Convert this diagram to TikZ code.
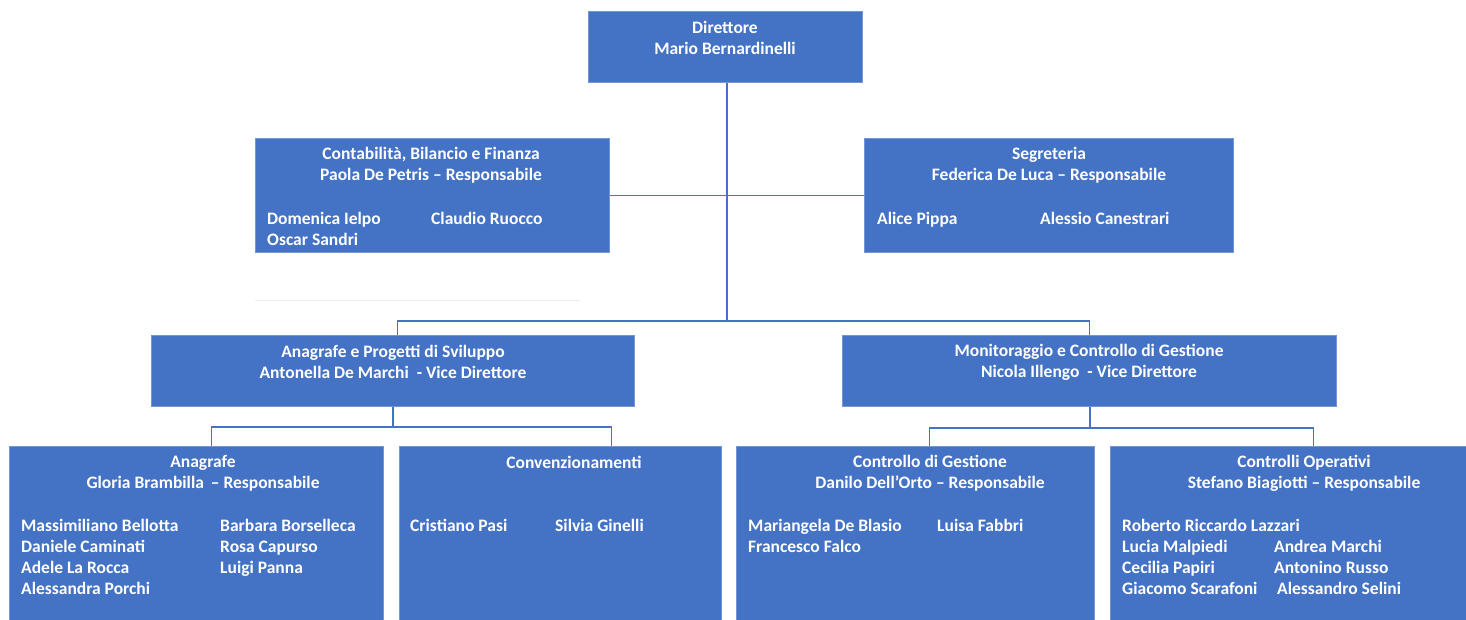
\documentclass[tikz,border=0pt]{standalone}
\usepackage{fontspec}
\setmainfont{Carlito}
\definecolor{orgblue}{HTML}{4472C4}
\definecolor{orgedge}{HTML}{7296D6}

\begin{document}
\begin{tikzpicture}[x = 1pt, y = -1pt]
\tikzstyle{UnitStyle}=[shape = rectangle,
                       fill = orgblue,
                       draw = orgedge,
                       line width = 0.8pt,
                       inner sep = 0pt,
                       anchor = north west]
\tikzstyle{TitleStyle}=[text = white,
                        font = \bfseries\fontsize{17.5}{21}\selectfont,
                        align = center,
                        inner sep = 0pt]
\tikzstyle{StaffStyle}=[text = white,
                        font = \bfseries\fontsize{17.5}{21}\selectfont,
                        align = left,
                        inner sep = 0pt,
                        anchor = north west]
\tikzstyle{LinkStyle}=[draw = orgblue, line width = 1.2pt]
\useasboundingbox (0,0) rectangle (1466,619);
\clip (0,0) rectangle (1466,619);
\node[UnitStyle, minimum width = 274pt, minimum height = 71pt] (dir) at (588,11) {};
\node[UnitStyle, minimum width = 354pt, minimum height = 114pt] (cont) at (255,138) {};
\node[UnitStyle, minimum width = 369pt, minimum height = 114pt] (segr) at (864,138) {};
\node[UnitStyle, minimum width = 483pt, minimum height = 71pt] (anpr) at (151,335) {};
\node[UnitStyle, minimum width = 494pt, minimum height = 71pt] (mon) at (842,335) {};
\node[UnitStyle, minimum width = 374pt, minimum height = 200pt] (ana) at (9,446) {};
\node[UnitStyle, minimum width = 322pt, minimum height = 200pt] (conv) at (399,446) {};
\node[UnitStyle, minimum width = 358pt, minimum height = 200pt] (cdg) at (736,446) {};
\node[UnitStyle, minimum width = 388pt, minimum height = 200pt] (cop) at (1110,446) {};
\node[TitleStyle] (dirT) at (725,37.5) {Direttore\\Mario Bernardinelli};
\node[TitleStyle] (contT) at (431,165.5) {Contabilità, Bilancio e Finanza\\Paola De Petris -- Responsabile};
\node[TitleStyle] (segrT) at (1049,165.5) {Segreteria\\Federica De Luca -- Responsabile};
\node[TitleStyle] (anprT) at (393,362) {Anagrafe e Progetti di Sviluppo\\Antonella De Marchi \ - Vice Direttore};
\node[TitleStyle] (monT) at (1089,362) {Monitoraggio e Controllo di Gestione\\Nicola Illengo \ - Vice Direttore};
\node[TitleStyle] (anaT) at (203,473) {Anagrafe\\Gloria Brambilla \,-- Responsabile};
\node[TitleStyle] (convT) at (574,462.5) {Convenzionamenti};
\node[TitleStyle] (cdgT) at (930,473) {Controllo di Gestione\\Danilo Dell’Orto -- Responsabile};
\node[TitleStyle] (copT) at (1304,473) {Controlli Operativi\\Stefano Biagiotti -- Responsabile};
\node[StaffStyle] (contS1) at (267,212) {Domenica Ielpo\\Oscar Sandri};
\node[StaffStyle] (contS2) at (431,212) {Claudio Ruocco};
\node[StaffStyle] (segrS1) at (877,212) {Alice Pippa};
\node[StaffStyle] (segrS2) at (1040,212) {Alessio Canestrari};
\node[StaffStyle] (anaS1) at (21,519) {Massimiliano Bellotta\\Daniele Caminati\\Adele La Rocca\\Alessandra Porchi};
\node[StaffStyle] (anaS2) at (220,519) {Barbara Borselleca\\Rosa Capurso\\Luigi Panna};
\node[StaffStyle] (convS1) at (410,519) {Cristiano Pasi};
\node[StaffStyle] (convS2) at (555,519) {Silvia Ginelli};
\node[StaffStyle] (cdgS1) at (748,519) {Mariangela De Blasio\\Francesco Falco};
\node[StaffStyle] (cdgS2) at (937,519) {Luisa Fabbri};
\node[StaffStyle] (copS1) at (1122,519) {Roberto Riccardo Lazzari\\Lucia Malpiedi\\Cecilia Papiri\\Giacomo Scarafoni};
\node[StaffStyle] (copS2) at (1274,540) {Andrea Marchi\\Antonino Russo};
\node[StaffStyle] (copS3) at (1277,582) {Alessandro Selini};
\coordinate (hub) at (727,321);
\coordinate (hubA) at (393,427);
\coordinate (hubM) at (1090,428);
\draw[LinkStyle] (hub) -- (hub |- dir.south);
\draw[LinkStyle] (cont.east) -- (segr.west);
\draw[LinkStyle] ([xshift=4.5pt]anpr.north) |- (hub) -| (mon.north);
\draw[LinkStyle] (hubA) -- (hubA |- anpr.south);
\draw[LinkStyle] ([xshift=15pt]ana.north) |- (hubA) -| ([xshift=51pt]conv.north);
\draw[LinkStyle] (hubM) -- (hubM |- mon.south);
\draw[LinkStyle] ([xshift=14pt]cdg.north) |- (hubM) -| ([xshift=9pt]cop.north);
\draw[black!7] (255,300) -- (580,300);
\end{tikzpicture}
\end{document}
